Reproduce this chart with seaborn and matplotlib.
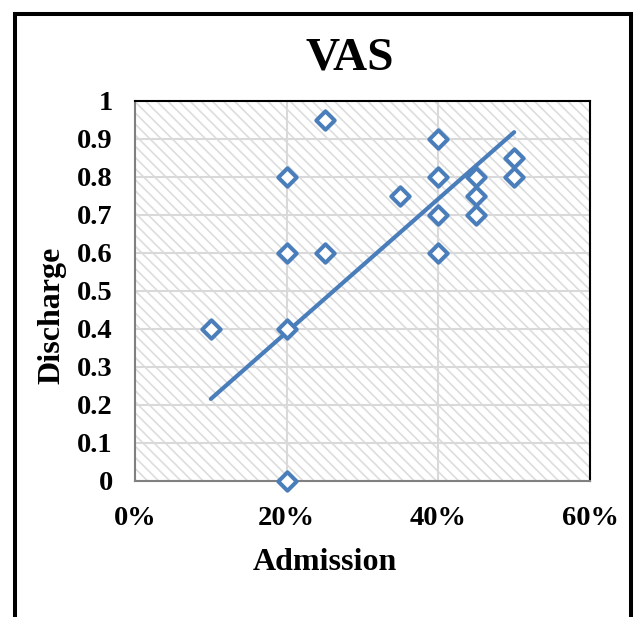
import matplotlib
matplotlib.use("Agg")
import matplotlib.pyplot as plt
import seaborn as sns
import pandas as pd
from matplotlib.patches import Rectangle
from matplotlib.lines import Line2D
from matplotlib.ticker import FixedLocator, FixedFormatter

# ---- data ----
admission = [0.10, 0.20, 0.20, 0.20, 0.20, 0.25, 0.25, 0.35,
             0.40, 0.40, 0.40, 0.40, 0.45, 0.45, 0.45, 0.50, 0.50]
discharge = [0.40, 0.80, 0.60, 0.40, 0.00, 0.95, 0.60, 0.75,
             0.90, 0.80, 0.70, 0.60, 0.80, 0.75, 0.70, 0.85, 0.80]
trend_x = [0.10, 0.50]
trend_y = [0.216, 0.918]
x_ticks = [0.0, 0.2, 0.4, 0.6]
x_labels = ["0%", "20%", "40%", "60%"]
y_ticks = [0.0, 0.1, 0.2, 0.3, 0.4, 0.5, 0.6, 0.7, 0.8, 0.9, 1.0]
y_labels = ["0", "0.1", "0.2", "0.3", "0.4", "0.5", "0.6", "0.7", "0.8", "0.9", "1"]
title = "VAS"
x_title = "Admission"
y_title = "Discharge"

sns.set_theme(style="white")
plt.rcParams["font.family"] = ["Liberation Serif", "DejaVu Serif"]
plt.rcParams["text.color"] = "black"
plt.rcParams["hatch.linewidth"] = 1.2

W, H = 634, 617
fig = plt.figure(figsize=(W / 100, H / 100), dpi=100)
fig.patch.set_facecolor("white")

L, R, T, B = 135, 590, 101, 481
ax = fig.add_axes([L / W, 1 - B / H, (R - L) / W, (B - T) / H])
ax.set_facecolor("white")

blue = "#4a7ebb"
df = pd.DataFrame({"Admission": admission, "Discharge": discharge})

# hatched plot-area background
ax.add_patch(Rectangle((0, 0), 1, 1, transform=ax.transAxes, facecolor="none",
                       edgecolor="#dddddd", hatch="\\\\\\", linewidth=0, zorder=0.1))

sns.lineplot(x=trend_x, y=trend_y, ax=ax, color=blue, linewidth=3.0, zorder=3)
sns.scatterplot(data=df, x="Admission", y="Discharge", ax=ax, marker="D", s=88,
                facecolor="white", edgecolor=blue, linewidth=2.9, zorder=4,
                clip_on=False)

ax.set_xlim(0, 0.6)
ax.set_ylim(0, 1)
ax.xaxis.set_major_locator(FixedLocator(x_ticks))
ax.xaxis.set_major_formatter(FixedFormatter(x_labels))
ax.yaxis.set_major_locator(FixedLocator(y_ticks))
ax.yaxis.set_major_formatter(FixedFormatter(y_labels))

ax.set_axisbelow(True)
ax.grid(True, color="#d9d9d9", linewidth=1.5)
ax.tick_params(axis="both", length=0, labelsize=20.5, colors="black")
ax.tick_params(axis="x", pad=18)
ax.tick_params(axis="y", pad=16)
for lab in ax.get_xticklabels() + ax.get_yticklabels():
    lab.set_fontweight("bold")

for side in ["top", "right"]:
    ax.spines[side].set_color("black")
    ax.spines[side].set_linewidth(1.5)
for side in ["left", "bottom"]:
    ax.spines[side].set_color("#808080")
    ax.spines[side].set_linewidth(1.5)
for s in ax.spines.values():
    s.set_visible(True)

ax.set_xlabel("")
ax.set_ylabel("")

fig.text(350 / W, 1 - 59 / H, title, ha="center", va="center",
         fontsize=34, fontweight="bold", color="black")
fig.text(325 / W, 1 - 563 / H, x_title, ha="center", va="center",
         fontsize=23, fontweight="bold", color="black")
fig.text(52 / W, 1 - 315 / H, y_title, ha="center", va="center",
         fontsize=23, fontweight="bold", rotation=90, color="black")

# outer black frame (bottom edge is cut off in the reference)
def px(x, y):
    return x / W, 1 - y / H
lw = 2.9
x0, y0 = px(15, 14)
x1, _ = px(631, 14)
_, yb = px(15, 640)
fig.add_artist(Line2D([x0, x0], [yb, y0], color="black", linewidth=lw,
                      solid_capstyle="projecting"))
fig.add_artist(Line2D([x0, x1], [y0, y0], color="black", linewidth=lw,
                      solid_capstyle="projecting"))
fig.add_artist(Line2D([x1, x1], [y0, yb], color="black", linewidth=lw,
                      solid_capstyle="projecting"))

fig.savefig("out.png", dpi=100)
